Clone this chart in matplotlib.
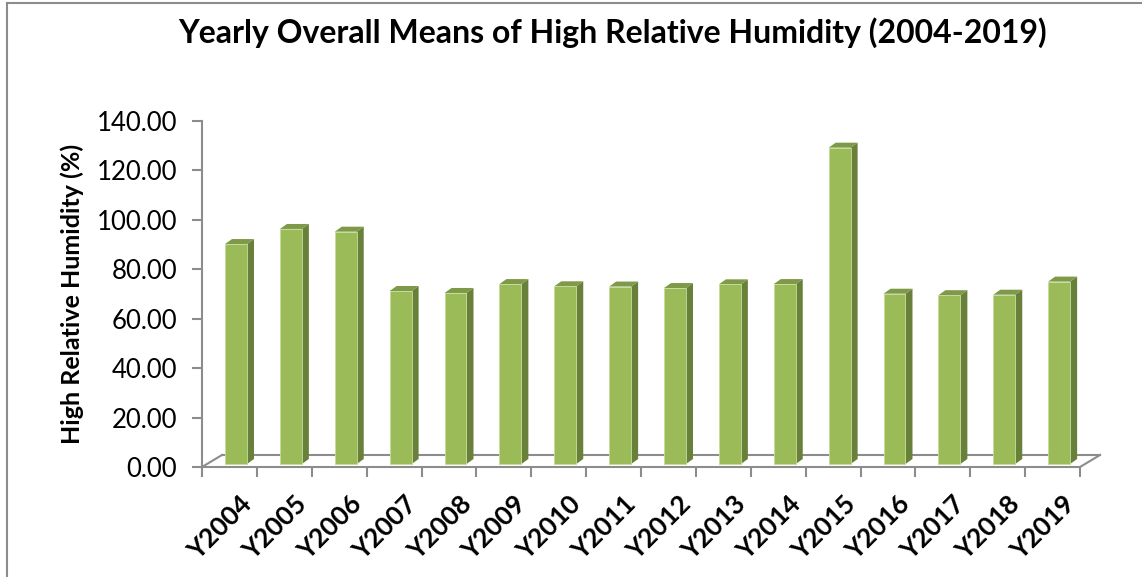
import matplotlib
matplotlib.use("Agg")
import matplotlib.pyplot as plt
from matplotlib.patches import Polygon
from matplotlib.lines import Line2D

# data
years = ["Y2004", "Y2005", "Y2006", "Y2007", "Y2008", "Y2009", "Y2010", "Y2011",
         "Y2012", "Y2013", "Y2014", "Y2015", "Y2016", "Y2017", "Y2018", "Y2019"]
humidity = [89.0, 95.1, 94.0, 70.0, 69.2, 72.8, 71.9, 71.8,
            71.2, 72.7, 72.8, 128.0, 68.9, 68.3, 68.5, 73.8]
yticks = [0, 20, 40, 60, 80, 100, 120, 140]

W, H = 1142, 577
plt.rcParams['font.family'] = ['Lato', 'DejaVu Sans']

fig = plt.figure(figsize=(W / 100, H / 100), dpi=100)
ax = fig.add_axes([202 / W, (H - 467) / H, 878 / W, 346 / H])
n = len(years)
ax.set_xlim(0, n)
ax.set_ylim(0, 140)

face = '#9bbb59'
side = '#68803a'
top = '#7e9a48'
grey = '#8c8c8c'

# floor depth (in data units) and bar geometry
fdx, fdy = 20 / 54.9, 12 / 2.471
bdx, bdy = 7 / 54.9, 5 / 2.471
base = 3 / 2.471
x_off, bw = 0.42, 0.40

for i, v in enumerate(humidity):
    x0 = i + x_off
    x1 = x0 + bw
    ax.add_patch(Polygon([(x1, base), (x1, base + v), (x1 + bdx, base + v + bdy),
                          (x1 + bdx, base + bdy)], closed=True, fc=side, ec='none',
                         clip_on=False, zorder=3))
    ax.add_patch(Polygon([(x0, base + v), (x1, base + v), (x1 + bdx, base + v + bdy),
                          (x0 + bdx, base + v + bdy)], closed=True, fc=top, ec='none',
                         clip_on=False, zorder=3))
    ax.bar(x0, v, width=bw, bottom=base, align='edge', color=face,
           edgecolor='#c5dc9a', linewidth=0.6, zorder=4, clip_on=False)

# floor of the 3d box
floor = [[(0, 0), (n, 0)], [(fdx, fdy), (n + fdx, fdy)],
         [(0, 0), (fdx, fdy)], [(n, 0), (n + fdx, fdy)]]
for seg in floor:
    xs, ys = zip(*seg)
    ax.plot(xs, ys, color=grey, lw=1.5, clip_on=False, zorder=2)

for s in ['top', 'right', 'bottom']:
    ax.spines[s].set_visible(False)
ax.spines['left'].set_color(grey)
ax.spines['left'].set_linewidth(1.5)

ax.set_yticks(yticks)
ax.set_yticklabels([f"{t:.2f}" for t in yticks], fontsize=18.5)
ax.tick_params(axis='y', direction='out', length=7, width=1.5, color=grey, pad=11)
ax.set_xticks(range(n + 1))
ax.set_xticklabels([])
ax.tick_params(axis='x', direction='out', length=7, width=1.5, color=grey)

for i, lab in enumerate(years):
    ax.text(i + 0.68, -10, lab, rotation=45, ha='right', va='top',
            rotation_mode='anchor', fontsize=19, fontweight='bold')

ax.set_ylabel("High Relative Humidity (%)", fontsize=18, fontweight='bold', labelpad=9)

fig.text(613 / W, 1 - 33 / H, "Yearly Overall Means of High Relative Humidity (2004-2019)",
         ha='center', va='center', fontsize=23, fontweight='bold')

# chart frame (only top and left edges visible in the reference)
fig.add_artist(Line2D([7 / W, 1], [1 - 3 / H, 1 - 3 / H], color=grey, lw=1.5))
fig.add_artist(Line2D([7 / W, 7 / W], [0, 1 - 3 / H], color=grey, lw=1.5))

fig.savefig("out.png", dpi=100)
